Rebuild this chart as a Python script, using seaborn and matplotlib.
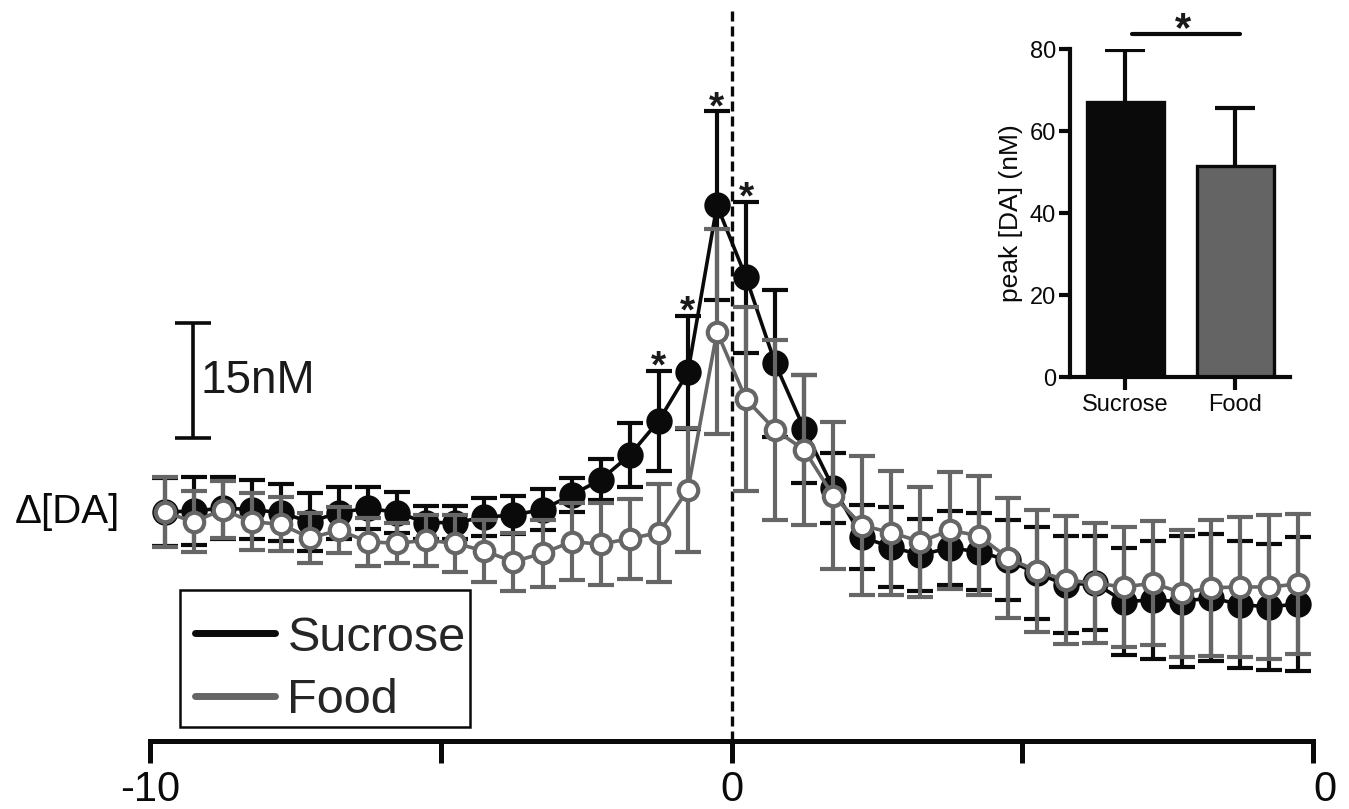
import matplotlib
matplotlib.use("Agg")
import matplotlib.pyplot as plt
from matplotlib.lines import Line2D
from matplotlib.patches import Rectangle
import seaborn as sns
import numpy as np
import pandas as pd

# time bins (s), 0.5 s wide, centred on bin middles
time = np.arange(-9.75, 10.0, 0.5)

# change in [DA] (nM), mean and SEM per bin
sucrose = [0.4, 0.5, 0.9, 0.7, 0.3, -0.9, 0.3, 0.9, 0.3, -1.0,
           -1.0, -0.3, 0.0, 0.7, 2.6, 4.6, 7.8, 12.3, 18.6, 40.4,
           31.0, 19.8, 11.2, 3.5, -2.9, -4.2, -5.2, -4.3, -4.8, -5.9,
           -7.6, -9.1, -8.9, -11.3, -11.1, -11.3, -10.8, -11.7, -12.0, -11.6]
sucrose_err = [4.4, 4.4, 4.0, 3.8, 3.7, 3.8, 3.4, 2.7, 2.7, 2.2,
               2.2, 2.5, 2.5, 2.7, 2.2, 2.7, 4.2, 6.5, 7.4, 12.3,
               9.9, 9.6, 7.0, 4.6, 4.2, 5.2, 4.7, 4.8, 5.0, 5.2,
               6.0, 6.3, 6.1, 7.0, 7.7, 8.5, 8.3, 8.3, 8.2, 8.7]
food = [0.4, -0.9, 0.7, -0.9, -1.2, -3.0, -2.0, -3.5, -3.7, -3.3,
        -3.7, -4.7, -6.1, -5.0, -3.5, -3.8, -3.1, -2.3, 3.3, 23.9,
        15.1, 11.1, 8.5, 2.5, -1.4, -2.3, -3.5, -2.0, -2.7, -5.6,
        -7.3, -8.5, -8.9, -9.4, -8.9, -10.2, -9.5, -9.4, -9.4, -9.0]
food_err = [4.6, 4.0, 3.7, 3.7, 3.5, 3.3, 3.0, 3.1, 2.6, 3.3,
            3.7, 4.0, 3.8, 4.4, 5.0, 5.3, 5.2, 6.4, 8.1, 13.4,
            12.0, 11.7, 9.8, 9.6, 9.1, 8.1, 7.2, 7.6, 7.8, 7.8,
            8.0, 8.3, 7.8, 7.8, 8.1, 8.3, 8.9, 9.1, 9.4, 9.1]
# bins marked as significantly different
sig_bins = [-1.25, -0.75, -0.25, 0.25]

# inset: peak [DA]
groups = ["Sucrose", "Food"]
peak = [67.0, 51.5]
peak_err = [12.7, 14.0]

xticks = [-10, -5, 0, 5, 10]
xtick_labels = ["-10", "", "0", "", "0"]

BLACK = "#0a0a0a"
GREY = "#666666"

sns.set_theme(style="white")
plt.rcParams["font.family"] = ["Liberation Sans", "DejaVu Sans"]

fig = plt.figure(figsize=(13.49, 8.09), dpi=100)
ax = fig.add_axes([150 / 1349, 68 / 809, 1163 / 1349, 741 / 809])
ax.set_facecolor("none")

df = pd.DataFrame({"time": time, "sucrose": sucrose, "food": food})

# Sucrose trace
ax.errorbar(time, sucrose, yerr=sucrose_err, fmt="none", ecolor=BLACK,
            elinewidth=3, capsize=9.7, capthick=3, zorder=2)
sns.lineplot(data=df, x="time", y="sucrose", ax=ax, color=BLACK, lw=2.6,
             marker="o", markersize=19, markerfacecolor=BLACK,
             markeredgecolor=BLACK, markeredgewidth=0, zorder=3)

# Food trace
ax.errorbar(time, food, yerr=food_err, fmt="none", ecolor=GREY,
            elinewidth=3, capsize=9.7, capthick=3, zorder=4)
sns.lineplot(data=df, x="time", y="food", ax=ax, color=GREY, lw=2.6,
             marker="o", markersize=14, markerfacecolor="white",
             markeredgecolor=GREY, markeredgewidth=3, zorder=5)

# significance stars above sucrose error bars
for t in sig_bins:
    i = int(np.argmin(np.abs(time - t)))
    ax.annotate("*", xy=(t, sucrose[i] + sucrose_err[i]), xytext=(0, -5),
                textcoords="offset points", ha="center", va="baseline",
                fontsize=28, fontweight="bold", color="#1a1a1a", zorder=6)

# stimulus onset
ax.axvline(0, ymin=0, ymax=0.9865, color=BLACK, lw=2.4,
           linestyle=(0, (3.0, 1.5)), zorder=1)

# 15 nM scale bar
sb_x, sb_lo, sb_hi = -9.26, 10.0, 25.0
ax.plot([sb_x, sb_x], [sb_lo, sb_hi], color=BLACK, lw=2.6, solid_capstyle="butt")
ax.hlines([sb_lo, sb_hi], sb_x - 0.31, sb_x + 0.31, color=BLACK, lw=2.6)
ax.text(sb_x + 0.12, (sb_lo + sb_hi) / 2, "15nM", ha="left", va="center",
        fontsize=33, color="#1a1a1a")

ax.set_xlim(-10, 10)
ax.set_ylim(-29.5, 67.2)
ax.set_xlabel("")
ax.set_ylabel("")
ax.set_yticks([])
for s in ["left", "top", "right"]:
    ax.spines[s].set_visible(False)
ax.spines["bottom"].set_linewidth(3.6)
ax.spines["bottom"].set_color(BLACK)
ax.set_xticks(xticks)
ax.set_xticklabels(xtick_labels)
ax.tick_params(axis="x", direction="out", length=16, width=3.6, color=BLACK,
               pad=5, labelsize=30, labelcolor=BLACK, bottom=True)
ax.get_xticklabels()[-1].set_ha("left")

fig.text(15 / 1349, 1 - 512 / 809, "Δ[DA]", ha="left", va="center",
         fontsize=29, color=BLACK)

# legend: frame drawn separately so the entries sit where they do in the figure
fig.add_artist(Rectangle((180 / 1349, 1 - 727 / 809), 290 / 1349, 137 / 809,
                         transform=fig.transFigure, fill=False,
                         edgecolor=BLACK, lw=1.8))
handles = [Line2D([], [], color=BLACK, lw=5),
           Line2D([], [], color=GREY, lw=5)]
ax.legend(handles, ["Sucrose", "Food"], loc="center left",
          bbox_to_anchor=(195 / 1349, 1 - 669.5 / 809),
          bbox_transform=fig.transFigure, fontsize=35, frameon=False,
          handlelength=1.65, handletextpad=0.25, borderpad=0,
          labelspacing=0.37, borderaxespad=0)

# inset bar chart
ins = fig.add_axes([1070 / 1349, 1 - 377 / 809, 220 / 1349, 328 / 809])
ins.set_facecolor("none")
peak_df = pd.DataFrame({"group": groups, "peak": peak})
err_top = [p + e for p, e in zip(peak, peak_err)]
ins.vlines([0, 1], peak, err_top, color=BLACK, lw=3, zorder=2)
ins.hlines(err_top, [-0.18, 0.82], [0.18, 1.18], color=BLACK, lw=3, zorder=2)
sns.barplot(data=peak_df, x="group", y="peak", hue="group",
            palette=[BLACK, "#646464"], width=0.7, edgecolor=BLACK,
            linewidth=2.4, errorbar=None, legend=False, ax=ins)
ins.plot([0.064, 1.045], [83.7, 83.7], color=BLACK, lw=3, clip_on=False)
ins.annotate("*", xy=(0.527, 83.7), xytext=(0, -5), textcoords="offset points",
             ha="center", va="baseline", fontsize=30, fontweight="bold",
             color="#1a1a1a", annotation_clip=False)
ins.set_xlim(-0.5, 1.5)
ins.set_ylim(0, 80)
ins.set_yticks([0, 20, 40, 60, 80])
ins.set_xlabel("")
ins.set_ylabel("peak [DA] (nM)", fontsize=19, labelpad=5, color=BLACK)
for s in ["top", "right"]:
    ins.spines[s].set_visible(False)
for s in ["left", "bottom"]:
    ins.spines[s].set_linewidth(3)
    ins.spines[s].set_color(BLACK)
ins.tick_params(axis="both", direction="out", width=3, color=BLACK,
                labelsize=17, labelcolor=BLACK, left=True, bottom=True)
ins.tick_params(axis="y", length=8, pad=2)
ins.tick_params(axis="x", length=9, pad=3)

fig.savefig("out.png", dpi=100)
